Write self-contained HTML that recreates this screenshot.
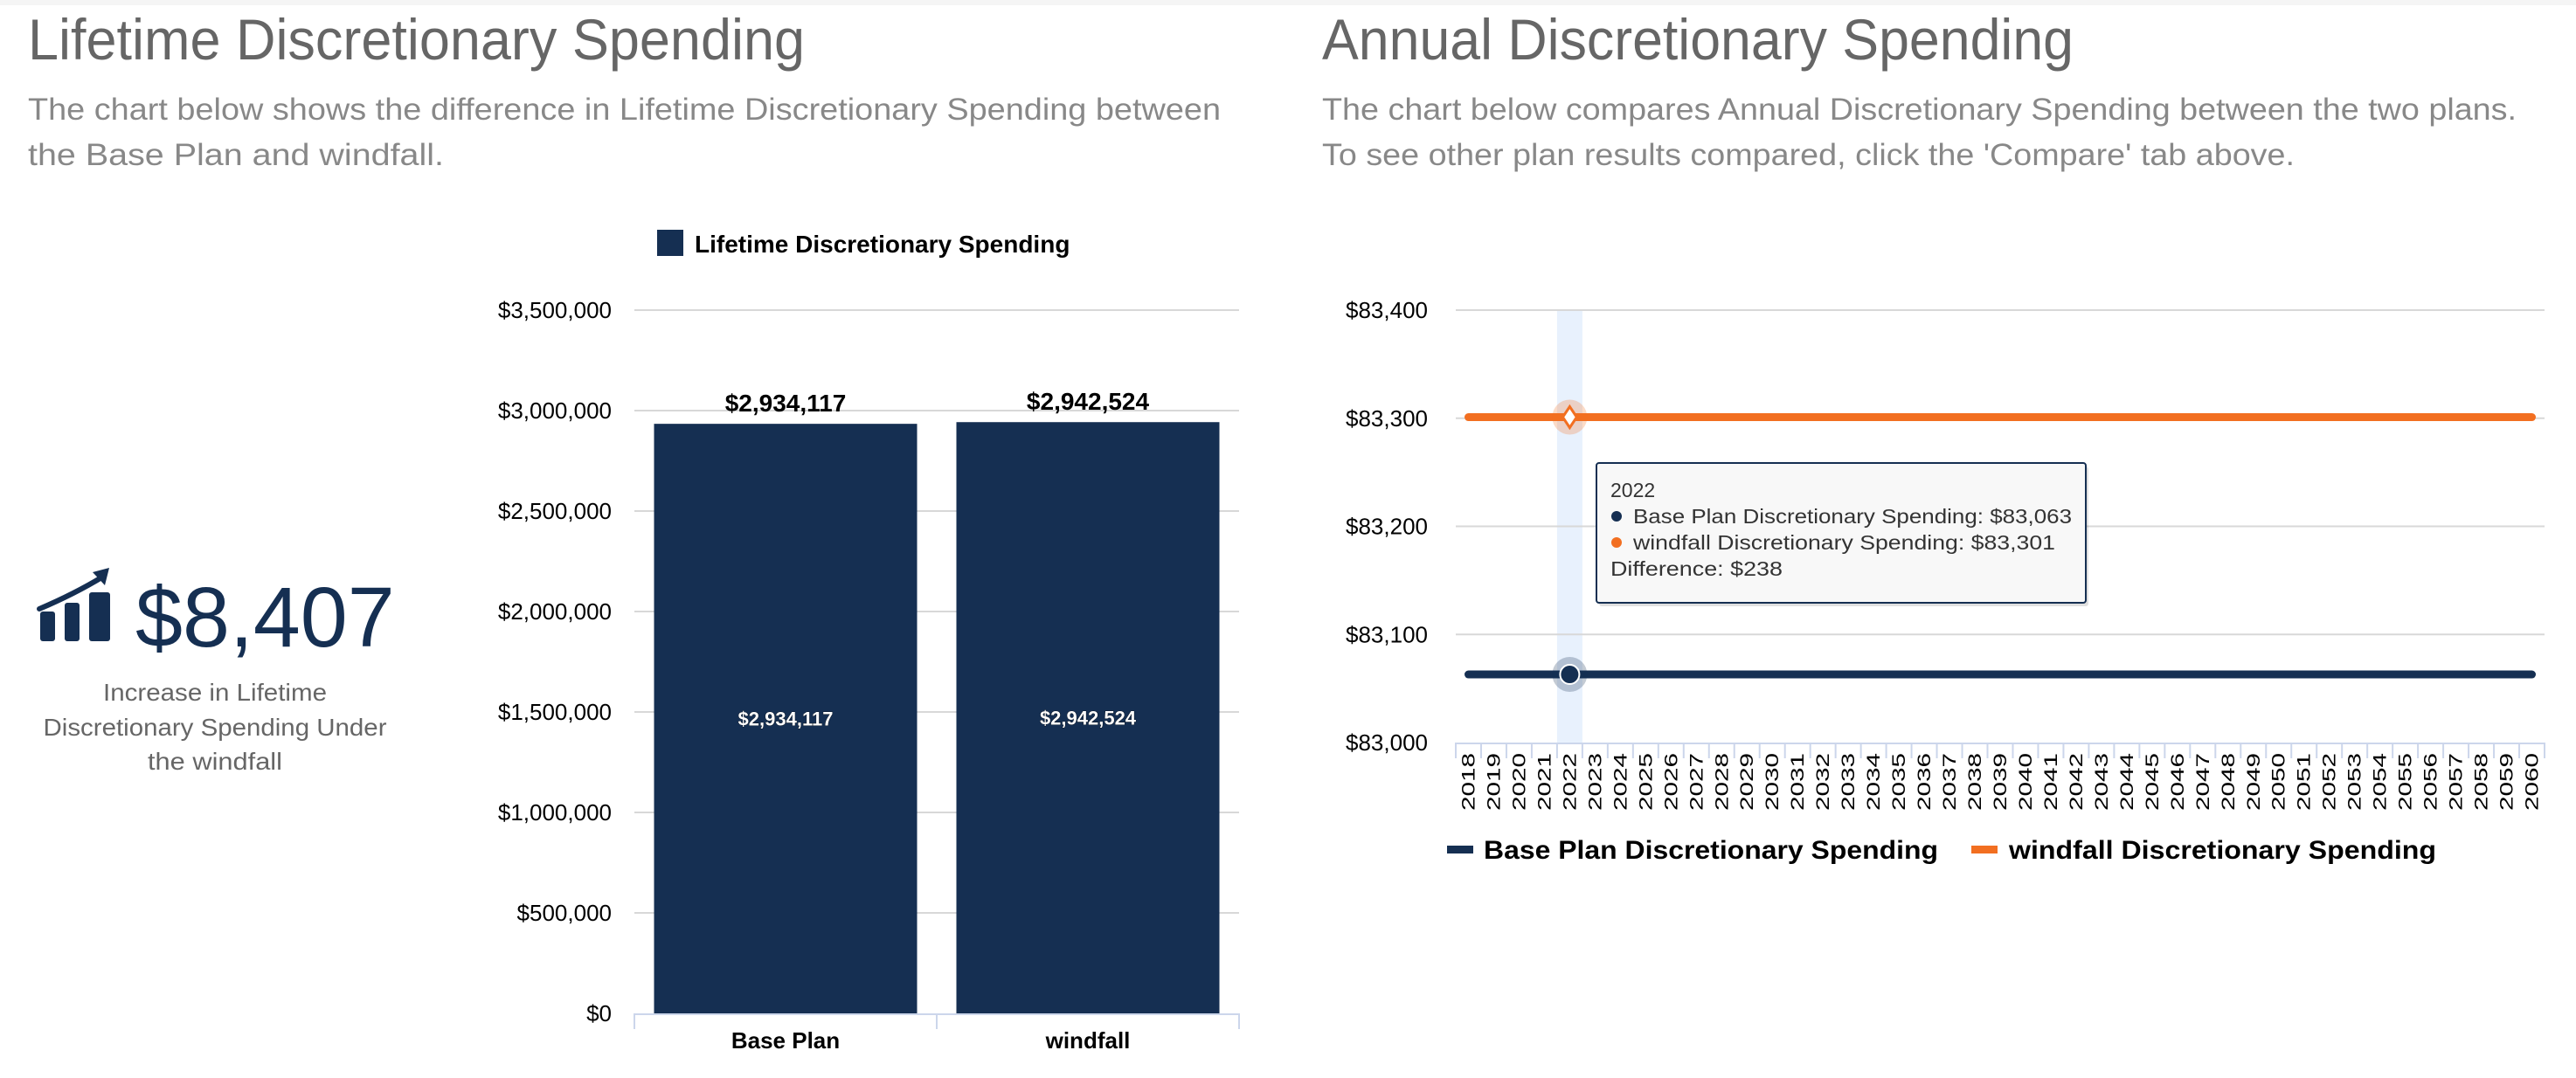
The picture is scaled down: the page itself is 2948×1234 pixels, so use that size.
<!DOCTYPE html>
<html><head><meta charset="utf-8"><style>
html,body{margin:0;padding:0;background:#fff;}
svg{display:block;font-family:"Liberation Sans",sans-serif;}
</style></head><body>
<svg id="root" width="2948" height="1234" viewBox="0 0 2948 1234" xmlns="http://www.w3.org/2000/svg">
<rect x="0" y="0" width="2948" height="6" fill="#f5f5f5"/>
<text x="32" y="68" font-size="66" fill="#666" textLength="889" lengthAdjust="spacingAndGlyphs">Lifetime Discretionary Spending</text>
<text x="32" y="137" font-size="35" fill="#888" textLength="1365" lengthAdjust="spacingAndGlyphs">The chart below shows the difference in Lifetime Discretionary Spending between</text>
<text x="32" y="189" font-size="35" fill="#888" textLength="476" lengthAdjust="spacingAndGlyphs">the Base Plan and windfall.</text>
<text x="1513" y="68" font-size="66" fill="#666" textLength="860" lengthAdjust="spacingAndGlyphs">Annual Discretionary Spending</text>
<text x="1513" y="137" font-size="35" fill="#888" textLength="1367" lengthAdjust="spacingAndGlyphs">The chart below compares Annual Discretionary Spending between the two plans.</text>
<text x="1513" y="189" font-size="35" fill="#888" textLength="1113" lengthAdjust="spacingAndGlyphs">To see other plan results compared, click the 'Compare' tab above.</text>

<g fill="#152f52">
<rect x="46" y="700" width="17" height="34" rx="3"/>
<rect x="74" y="690" width="17" height="44" rx="3"/>
<rect x="102" y="678" width="24" height="56" rx="3"/>
<path d="M45 697 Q85 680 118 660" stroke="#152f52" stroke-width="6" fill="none" stroke-linecap="round"/>
<polygon points="125,650 106,655 120,670"/>
</g>
<text x="155" y="740" font-size="97" fill="#152f52">$8,407</text>
<g font-size="28" fill="#666" text-anchor="middle">
<text x="246" y="802" textLength="256" lengthAdjust="spacingAndGlyphs">Increase in Lifetime</text>
<text x="246" y="842" textLength="393" lengthAdjust="spacingAndGlyphs">Discretionary Spending Under</text>
<text x="246" y="881" textLength="154" lengthAdjust="spacingAndGlyphs">the windfall</text>
</g>

<g id="bar-chart"></g>
<g id="line-chart"></g>
</svg>
<script>
var barCategories = ["Base Plan", "windfall"];
var barValues = [2934117, 2942524];
var barTicks = [0, 500000, 1000000, 1500000, 2000000, 2500000, 3000000, 3500000];

var lineYears = [];
for (var yr = 2018; yr <= 2060; yr++) lineYears.push(yr);
var baseValues = [83063,83063,83063,83063,83063,83063,83063,83063,83063,83063,83063,83063,83063,83063,83063,83063,83063,83063,83063,83063,83063,83063,83063,83063,83063,83063,83063,83063,83063,83063,83063,83063,83063,83063,83063,83063,83063,83063,83063,83063,83063,83063,83063];
var windfallValues = [83301,83301,83301,83301,83301,83301,83301,83301,83301,83301,83301,83301,83301,83301,83301,83301,83301,83301,83301,83301,83301,83301,83301,83301,83301,83301,83301,83301,83301,83301,83301,83301,83301,83301,83301,83301,83301,83301,83301,83301,83301,83301,83301];
var lineTicks = [83000, 83100, 83200, 83300, 83400];
var hoverIndex = 4;

var NS = "http://www.w3.org/2000/svg";
function mk(parent, tag, attrs, text) {
  var e = document.createElementNS(NS, tag);
  for (var k in attrs) e.setAttribute(k, attrs[k]);
  if (text !== undefined) e.textContent = text;
  parent.appendChild(e);
  return e;
}
function fmt(v) { return "$" + v.toLocaleString("en-US"); }

// ---------- bar chart ----------
(function () {
  var g = document.getElementById("bar-chart");
  var L = 726, R = 1418, T = 355, B = 1160;
  var yMax = barTicks[barTicks.length - 1];
  function y(v) { return B - (v / yMax) * (B - T); }
  var band = (R - L) / barCategories.length;
  function xb(i) { return L + i * band; }

  var leg = mk(g, "rect", {x: 752, y: 263, width: 30, height: 30, fill: "#152f52"});
  
  
  var lt = mk(g, "text", {x: 795, y: 289, "font-size": 28, "font-weight": "bold", fill: "#000"}, "Lifetime Discretionary Spending");
  
  

  barTicks.forEach(function (t) {
    if (t > 0) {
      var gl = mk(g, "line", {x1: L, x2: R, y1: y(t), y2: y(t), stroke: "#d8d8d8", "stroke-width": 2});
      
      
    }
    var tl = mk(g, "text", {x: 700, y: y(t) + 9, "font-size": 26, "text-anchor": "end", fill: "#000"}, fmt(t));
    
    
  });
  var ax = mk(g, "line", {x1: L, x2: R, y1: B + 1, y2: B + 1, stroke: "#ccd6eb", "stroke-width": 2});
  
  
  for (var i = 0; i <= barCategories.length; i++) {
    var tk = mk(g, "line", {x1: xb(i), x2: xb(i), y1: B, y2: B + 18, stroke: "#ccd6eb", "stroke-width": 2});
    
    
  }
  barCategories.forEach(function (c, i) {
    var bw = band * 0.87;
    var bx = xb(i) + (band - bw) / 2;
    var r = mk(g, "rect", {x: bx, y: y(barValues[i]), width: bw, height: B - y(barValues[i]), fill: "#152f52"});
    
    
    var top = mk(g, "text", {x: bx + bw / 2, y: y(barValues[i]) - 14, "font-size": 28, "font-weight": "bold", "text-anchor": "middle", fill: "#000"}, fmt(barValues[i]));
    
    
    var mid = mk(g, "text", {x: bx + bw / 2, y: (y(barValues[i]) + B) / 2 + 8, "font-size": 22, "font-weight": "bold", "text-anchor": "middle", fill: "#fff", stroke: "#000", "stroke-width": 0.6, "paint-order": "stroke"}, fmt(barValues[i]));
    
    
    var cl = mk(g, "text", {x: bx + bw / 2, y: B + 40, "font-size": 26, "font-weight": "bold", "text-anchor": "middle", fill: "#000"}, c);
    
    
  });
})();

// ---------- line chart ----------
(function () {
  var g = document.getElementById("line-chart");
  var L = 1666, R = 2912, T = 355, B = 850;
  var yMin = lineTicks[0], yMax = lineTicks[lineTicks.length - 1];
  function y(v) { return B - (v - yMin) / (yMax - yMin) * (B - T); }
  var band = (R - L) / lineYears.length;
  function xc(i) { return L + (i + 0.5) * band; }

  var hb = mk(g, "rect", {x: L + hoverIndex * band, y: T, width: band, height: B - T, fill: "#e8f1fd"});
  
  

  lineTicks.forEach(function (t) {
    if (t > yMin) {
      var gl = mk(g, "line", {x1: L, x2: R, y1: y(t), y2: y(t), stroke: "#d8d8d8", "stroke-width": 2});
      
      
    }
    var tl = mk(g, "text", {x: 1634, y: y(t) + 9, "font-size": 26, "text-anchor": "end", fill: "#000"}, fmt(t));
    
    
  });
  var ax = mk(g, "line", {x1: L, x2: R, y1: B + 1, y2: B + 1, stroke: "#ccd6eb", "stroke-width": 2});
  
  
  for (var i = 0; i <= lineYears.length; i++) {
    var tk = mk(g, "line", {x1: L + i * band, x2: L + i * band, y1: B, y2: B + 18, stroke: "#ccd6eb", "stroke-width": 2});
    
    
  }
  lineYears.forEach(function (yr, i) {
    var t = mk(g, "text", {x: 0, y: 0, "font-size": 21, "text-anchor": "end", fill: "#000", textLength: 66, lengthAdjust: "spacingAndGlyphs", transform: "translate(" + (xc(i) + 7) + "," + (B + 12) + ") rotate(-90)"}, String(yr));
    
    
  });

  function path(vals) {
    return vals.map(function (v, i) { return (i ? "L" : "M") + xc(i) + " " + y(v); }).join(" ");
  }
  var pw = mk(g, "path", {d: path(windfallValues), stroke: "#f26f21", "stroke-width": 9, fill: "none", "stroke-linecap": "round"});
  
  
  var pb = mk(g, "path", {d: path(baseValues), stroke: "#152f52", "stroke-width": 9, fill: "none", "stroke-linecap": "round"});
  
  

  var hx = xc(hoverIndex), wy = y(windfallValues[hoverIndex]), by = y(baseValues[hoverIndex]);
  var h1 = mk(g, "circle", {cx: hx, cy: wy, r: 20, fill: "#f26f21", "fill-opacity": 0.25});
  
  
  var dm = mk(g, "polygon", {points: (hx) + "," + (wy - 12) + " " + (hx + 8) + "," + wy + " " + hx + "," + (wy + 12) + " " + (hx - 8) + "," + wy, fill: "#fff", stroke: "#f26f21", "stroke-width": 3});
  
  
  var h2 = mk(g, "circle", {cx: hx, cy: by, r: 20, fill: "#152f52", "fill-opacity": 0.25});
  
  
  var cm = mk(g, "circle", {cx: hx, cy: by, r: 11, fill: "#152f52", stroke: "#fff", "stroke-width": 2});
  
  

  // tooltip
  var tg = mk(g, "g", {});
  
  
  mk(tg, "rect", {x: 1830, y: 534, width: 560, height: 160, rx: 3, fill: "#000", "fill-opacity": 0.12});
  var tr = mk(tg, "rect", {x: 1827, y: 530, width: 560, height: 160, rx: 3, fill: "#f8f8f8", stroke: "#152f52", "stroke-width": 2});
  
  
  var tx = 1843;
  var t0 = mk(tg, "text", {x: tx, y: 569, "font-size": 23, fill: "#333"}, String(lineYears[hoverIndex]));
  
  
  mk(tg, "circle", {cx: tx + 7, cy: 591, r: 6, fill: "#152f52"});
  var t1 = mk(tg, "text", {x: tx + 26, y: 599, "font-size": 23, fill: "#333", textLength: 502, lengthAdjust: "spacingAndGlyphs"}, "Base Plan Discretionary Spending: " + fmt(baseValues[hoverIndex]));
  
  
  mk(tg, "circle", {cx: tx + 7, cy: 621, r: 6, fill: "#f26f21"});
  var t2 = mk(tg, "text", {x: tx + 26, y: 629, "font-size": 23, fill: "#333", textLength: 483, lengthAdjust: "spacingAndGlyphs"}, "windfall Discretionary Spending: " + fmt(windfallValues[hoverIndex]));
  
  
  var t3 = mk(tg, "text", {x: tx, y: 659, "font-size": 23, fill: "#333", textLength: 197, lengthAdjust: "spacingAndGlyphs"}, "Difference: " + fmt(windfallValues[hoverIndex] - baseValues[hoverIndex]));
  
  

  // legend
  var l1 = mk(g, "rect", {x: 1656, y: 968, width: 30, height: 9, fill: "#152f52"});
  
  
  var l1t = mk(g, "text", {x: 1698, y: 983, "font-size": 30, "font-weight": "bold", fill: "#000", textLength: 520, lengthAdjust: "spacingAndGlyphs"}, "Base Plan Discretionary Spending");
  
  
  var l2 = mk(g, "rect", {x: 2256, y: 968, width: 30, height: 9, fill: "#f26f21"});
  
  
  var l2t = mk(g, "text", {x: 2299, y: 983, "font-size": 30, "font-weight": "bold", fill: "#000", textLength: 489, lengthAdjust: "spacingAndGlyphs"}, "windfall Discretionary Spending");
  
  
})();
</script>
</body></html>
